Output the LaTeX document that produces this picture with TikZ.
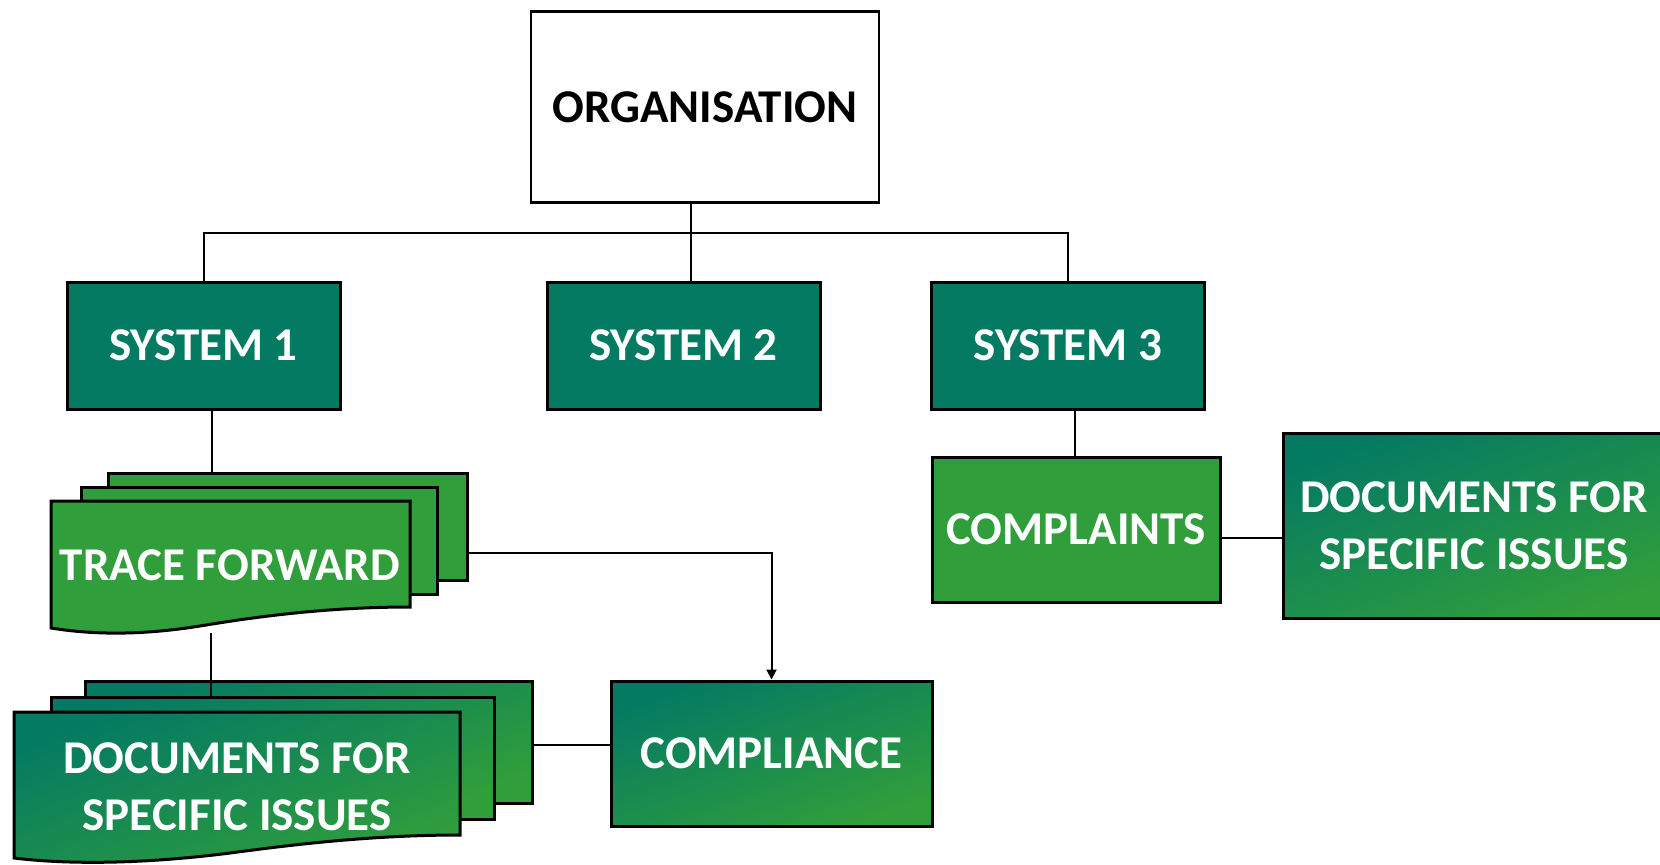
\documentclass[tikz,border=0pt]{standalone}
\usepackage{fontspec}
\setmainfont{Carlito}
\usetikzlibrary{arrows.meta}
\definecolor{sysTeal}{RGB}{4,122,99}
\definecolor{grn}{RGB}{48,158,59}
\begin{document}
\begin{tikzpicture}[x=0.5pt,y=-0.5pt, line join=miter,
  lbl/.style={font=\bfseries\fontsize{23.5}{28.3}\selectfont, text=white, align=center, inner sep=0pt},
  frame/.style={draw=black, line width=1.5pt},
  conn/.style={draw=black, line width=1pt},
  grad/.style={top color=sysTeal, bottom color=grn, shading angle=20},
  sysbox/.style={frame, fill=sysTeal, minimum width=136.5pt, minimum height=63.5pt, lbl}]
\useasboundingbox (0,0) rectangle (1660,864);

% top level
\node[draw=black, line width=1.3pt, fill=white, minimum width=174pt, minimum height=95.5pt,
      font=\bfseries\fontsize{23.5}{28.3}\selectfont, text=black, inner sep=0pt] (org) at (705,107) {ORGANISATION};
\node[sysbox] (sys1) at (203.5,345.5) {SYSTEM 1};
\node[sysbox] (sys2) at (683.5,345.5) {SYSTEM 2};
\node[sysbox] (sys3) at (1068,345.5) {SYSTEM 3};

\coordinate (j) at (691,233);
\draw[conn] (j |- org.south) -- (j);
\draw[conn] (sys1.north) |- (sys3.north |- j) -- (sys3.north);
\draw[conn] (j) -- (j |- sys2.north);

% trace forward stack
\node[minimum width=208pt, minimum height=80pt, inner sep=0pt] (tracestack) at (259,553) {};
\path[frame, fill=grn] (108,473) rectangle (467,580);
\path[frame, fill=grn] (81,487) rectangle (437,594);
\path[frame, fill=grn] (51,501) -- (410,501) -- (410,607)
   .. controls (330,607) and (260,616) .. (200,626)
   .. controls (150,634) and (100,636) .. (51,628) -- cycle;
\node[lbl] (trace) at (230,565) {TRACE FORWARD};
\draw[conn] ([xshift=4.25pt]sys1.south) coordinate (s1) -- (s1 |- tracestack.north);

% documents stack (left)
\node[minimum width=259pt, minimum height=90pt, inner sep=0pt] (docstack) at (273,771) {};
\coordinate (tb) at (211,633);
\coordinate (docE) at (532,745);
\path[frame, grad] (85,681) rectangle (532,803);
\draw[conn] (tb) -- (tb |- 0,697);
\path[frame, grad] (51,697) rectangle (494,819);
\path[frame, grad] (14,712) -- (460,712) -- (460,835)
   .. controls (370,835) and (290,845) .. (230,853)
   .. controls (160,862) and (80,866) .. (14,858) -- cycle;
\node[lbl] (docsL) at (237,786.5) {DOCUMENTS FOR\\SPECIFIC ISSUES};

% compliance
\node[frame, grad, minimum width=160.5pt, minimum height=72.5pt, lbl] (comp) at (771.5,753.5) {COMPLIANCE};
\draw[conn] (docE) -- (comp.west |- docE);
\draw[conn, -{Triangle[length=5pt,width=5pt]}] (tracestack.east) -| (comp.north);

% complaints
\node[frame, fill=grn, minimum width=144pt, minimum height=72.5pt, lbl] (compl) at (1076,529.5) {COMPLAINTS};
\draw[conn] ([xshift=3.5pt]sys3.south) coordinate (s3) -- (s3 |- compl.north);
\node[frame, grad, minimum width=191pt, minimum height=92.5pt, lbl] (docsR) at (1474,525.5) {DOCUMENTS FOR\\SPECIFIC ISSUES};
\draw[conn] ([yshift=-4pt]compl.east) coordinate (c3) -- (docsR.west |- c3);
\end{tikzpicture}
\end{document}
